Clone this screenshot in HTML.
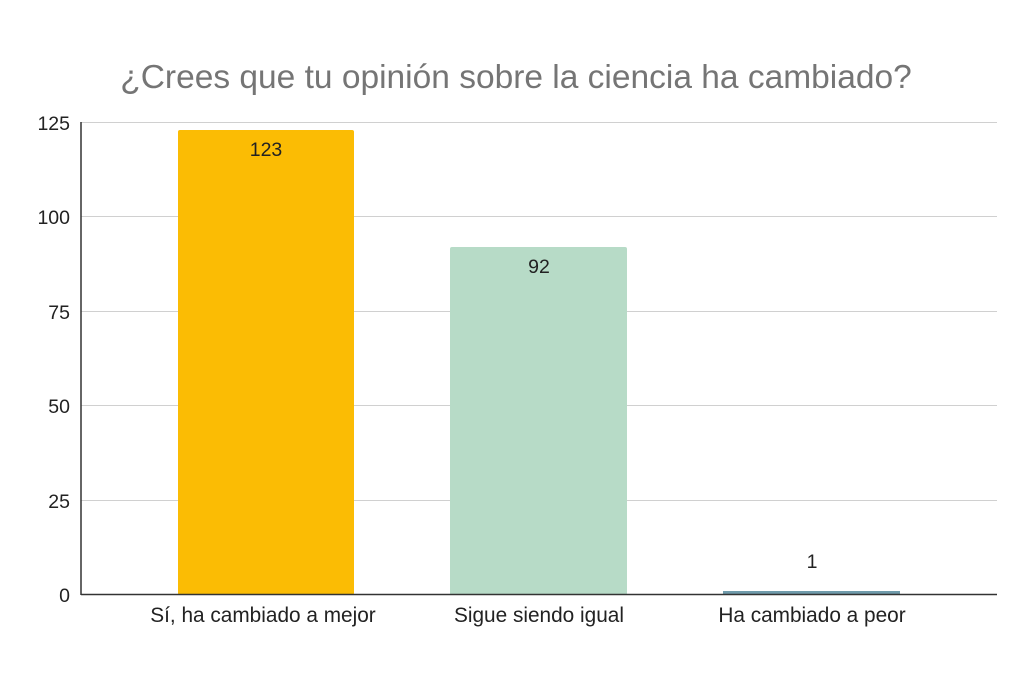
<!DOCTYPE html>
<html><head><meta charset="utf-8"><style>body{margin:0;background:#fff}svg{display:block}</style></head><body>
<svg width="1024" height="688" viewBox="0 0 1024 688" xmlns="http://www.w3.org/2000/svg" font-family="Liberation Sans, Arial, sans-serif">
<rect width="1024" height="688" fill="#fff"/>
<text x="516" y="88" text-anchor="middle" font-size="33.5" fill="#757575">¿Crees que tu opinión sobre la ciencia ha cambiado?</text>
<g stroke="#d0d0d0" stroke-width="1">
<line x1="81" x2="997" y1="122.5" y2="122.5"/>
<line x1="81" x2="997" y1="216.5" y2="216.5"/>
<line x1="81" x2="997" y1="311.5" y2="311.5"/>
<line x1="81" x2="997" y1="405.5" y2="405.5"/>
<line x1="81" x2="997" y1="500.5" y2="500.5"/>
</g>
<g font-size="19.5" fill="#222" text-anchor="end">
<text x="70" y="130">125</text><text x="70" y="224">100</text><text x="70" y="319">75</text><text x="70" y="413">50</text><text x="70" y="508">25</text><text x="70" y="602">0</text>
</g>
<rect x="178" y="130" width="176" height="465" rx="2" fill="#fbbc04"/>
<rect x="450" y="247" width="177" height="348" rx="2" fill="#b7dbc7"/>
<rect x="723" y="591" width="177" height="4" fill="#6f9bab"/>
<line x1="81" x2="81" y1="122" y2="595" stroke="#333" stroke-width="1.5"/>
<line x1="81" x2="997" y1="594.5" y2="594.5" stroke="#333" stroke-width="1.5"/>
<g font-size="19.5" fill="#222" text-anchor="middle">
<text x="266" y="156">123</text><text x="539" y="273">92</text><text x="812" y="568">1</text>
</g>
<g font-size="20.8" fill="#222" text-anchor="middle">
<text x="263" y="622">Sí, ha cambiado a mejor</text><text x="539" y="622">Sigue siendo igual</text><text x="812" y="622">Ha cambiado a peor</text>
</g>
</svg>
</body></html>
